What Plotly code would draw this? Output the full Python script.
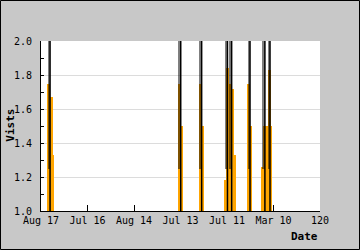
import plotly.graph_objects as go

# ---- data ----
tick_vals = [0, 20, 40, 60, 80, 100, 120]
tick_text = ["Aug 17", "Jul 16", "Aug 14", "Jul 13", "Jul 11", "Mar 10", "120"]

# black spikes (visits far above the axis top)
spike_x = [3.9, 60.1, 69.1, 80.2, 82.0, 89.9, 96.3, 98.5]
spike_y = [6, 6, 6, 6, 6, 6, 6, 6]

# orange area steps
bar_x = [3.3, 4.4, 4.9,
         59.6, 60.5,
         68.6, 69.5,
         79.2, 80.3, 81.4, 82.6, 83.1,
         89.4, 90.3,
         95.4, 96.0, 97.4, 98.2, 98.9]
bar_y = [1.75, 1.67, 1.33,
         1.75, 1.50,
         1.75, 1.50,
         1.18, 1.84, 1.75, 1.72, 1.33,
         1.75, 1.50,
         1.26, 1.50, 1.50, 1.83, 1.50]

fig = go.Figure()

fig.add_trace(go.Bar(x=bar_x, y=bar_y, width=1.2,
                     marker=dict(color="#FFA500", line=dict(width=0)),
                     hoverinfo="skip"))

# shading left of each spike
fig.add_trace(go.Bar(x=[s - 0.55 for s in spike_x], y=[0.8] * len(spike_x), base=1.25,
                     width=1.0, marker=dict(color="rgba(0,0,0,0.5)", line=dict(width=0)),
                     hoverinfo="skip"))

lx, ly = [], []
for s, v in zip(spike_x, spike_y):
    lx += [s, s, None]
    ly += [0, v, None]
fig.add_trace(go.Scatter(x=lx, y=ly, mode="lines",
                         line=dict(color="black", width=1.5), hoverinfo="skip"))

pw, ph = 279, 170
fig.update_layout(
    width=360, height=250,
    margin=dict(l=41, r=40, t=41, b=39),
    paper_bgcolor="#c8c8c8", plot_bgcolor="white",
    showlegend=False, barmode="overlay", bargap=0,
    font=dict(family="DejaVu Sans Mono", size=10, color="black"),
    xaxis=dict(range=[0, 120], tickvals=tick_vals, ticktext=tick_text,
               ticks="inside", ticklen=6, tickcolor="black", tickwidth=1,
               showline=True, linecolor="black", linewidth=1,
               showgrid=False, zeroline=False,
               tickfont=dict(family="DejaVu Sans Mono", size=10, color="black")),
    yaxis=dict(range=[1, 2], dtick=0.2, tick0=1, tickformat=".1f",
               ticks="inside", ticklen=3, tickcolor="black",
               ticksuffix="\u00a0",
               minor=dict(dtick=0.1, ticks="inside", ticklen=3, tickcolor="black", showgrid=False),
               showline=True, linecolor="black", linewidth=1,
               showgrid=True, gridcolor="#dcdcdc", zeroline=False,
               tickfont=dict(family="DejaVu Sans Mono", size=10, color="black")),
    annotations=[
        dict(text="<b>Vists</b>", xref="paper", yref="paper",
             x=(9.7 - 41) / pw, y=(211 - 125) / ph, textangle=-90,
             showarrow=False, xanchor="center", yanchor="middle",
             font=dict(family="DejaVu Sans Mono", size=11, color="black")),
        dict(text="<b>Date</b>", xref="paper", yref="paper",
             x=(319.5 - 41) / pw, y=(211 - 236) / ph,
             showarrow=False, xanchor="right", yanchor="middle",
             font=dict(family="DejaVu Sans Mono", size=11, color="black")),
    ],
    shapes=[dict(type="rect", xref="paper", yref="paper",
                 x0=(0.5 - 41) / pw, x1=(359.5 - 41) / pw,
                 y0=(211 - 249.5) / ph, y1=(211 - 0.5) / ph,
                 line=dict(color="black", width=1), layer="above")],
)

fig.write_html("out.html")
